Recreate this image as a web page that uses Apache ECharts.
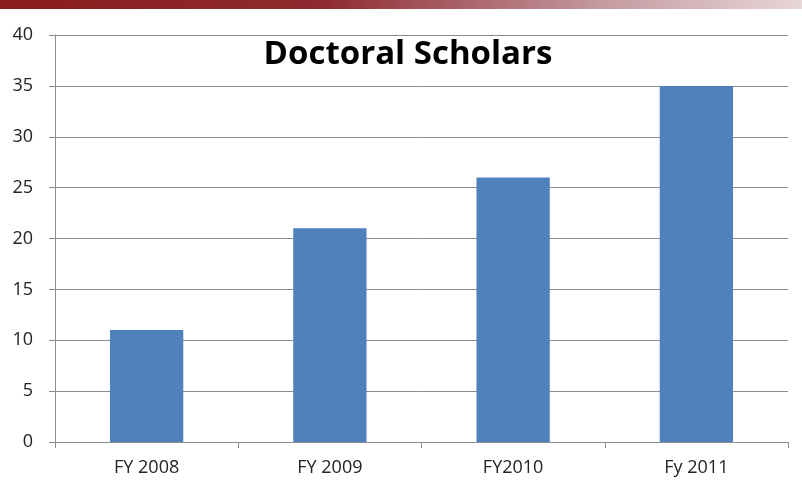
<!DOCTYPE html>
<html>
<head>
<meta charset="utf-8">
<script src="https://cdn.jsdelivr.net/npm/echarts@6/dist/echarts.min.js"></script>
<style>
  html, body { margin: 0; padding: 0; background: #fff; }
  #chart { width: 802px; height: 498px; }
</style>
</head>
<body>
<div id="chart"></div>
<script>
const categories = ['FY 2008', 'FY 2009', 'FY2010', 'Fy 2011']
const scholars = [11, 21, 26, 35]

const chart = echarts.init(document.getElementById('chart'))

chart.setOption({
  animation: false,
  title: {
    text: 'Doctoral Scholars',
    left: 403,
    textAlign: 'center',
    top: 33,
    textStyle: {
      fontFamily: 'Open Sans',
      fontWeight: 'bold',
      fontSize: 33,
      color: '#000'
    }
  },
  // header band
  graphic: [{
    type: 'rect',
    shape: { x: 0, y: 0, width: 802, height: 9 },
    style: {
      fill: new echarts.graphic.LinearGradient(0, 0, 1, 0, [
        { offset: 0, color: '#8a1c1c' },
        { offset: 0.4, color: '#8e2a30' },
        { offset: 0.75, color: '#c49aa0' },
        { offset: 1, color: '#e8d6d8' }
      ])
    },
    z: 10
  }],
  grid: {
    left: 55,
    right: 14,
    top: 35,
    bottom: 56
  },
  xAxis: {
    type: 'category',
    data: categories,
    axisLine: { lineStyle: { color: '#8c8c8c', width: 1 } },
    axisTick: { show: true, length: 6, lineStyle: { color: '#8c8c8c' } },
    axisLabel: {
      fontFamily: 'Open Sans',
      fontSize: 18,
      color: '#222',
      margin: 17
    }
  },
  yAxis: {
    type: 'value',
    min: 0,
    max: 40,
    interval: 5,
    axisLine: { show: true, lineStyle: { color: '#8c8c8c', width: 1 } },
    axisTick: { show: true, length: 6, lineStyle: { color: '#8c8c8c' } },
    axisLabel: {
      fontFamily: 'Open Sans',
      fontSize: 18,
      color: '#222',
      margin: 22
    },
    splitLine: { lineStyle: { color: '#8c8c8c', width: 1 } }
  },
  series: [{
    type: 'bar',
    data: scholars,
    barWidth: '40%',
    itemStyle: { color: '#4f81bd' }
  }]
})
</script>
</body>
</html>
